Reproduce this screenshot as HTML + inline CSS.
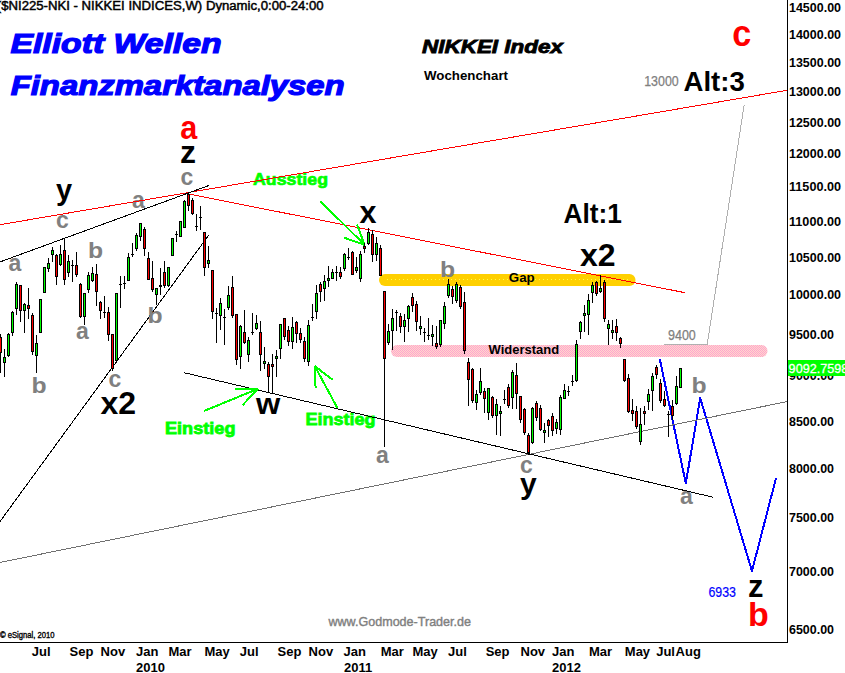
<!DOCTYPE html><html><head><meta charset="utf-8"><title>NIKKEI Index Wochenchart</title><style>html,body{margin:0;padding:0;background:#fff;overflow:hidden}svg{display:block}text{font-family:"Liberation Sans",Arial,sans-serif}</style></head><body>
<svg width="845" height="673" viewBox="0 0 845 673">
<rect width="845" height="673" fill="#fff"/>
<rect x="379" y="274" width="256.5" height="12" rx="6" fill="#FFD000"/>
<line x1="387" y1="279.5" x2="628" y2="279.5" stroke="#FFFF40" stroke-width="1" stroke-dasharray="1 3"/>
<defs><pattern id="pk" width="2" height="2" patternUnits="userSpaceOnUse"><rect width="2" height="2" fill="#FFDCC8"/><rect width="1" height="1" fill="#FFA0D2"/><rect x="1" y="1" width="1" height="1" fill="#FFA0D2"/></pattern></defs>
<rect x="391" y="345" width="376.5" height="12" rx="6" fill="url(#pk)"/>
<line x1="0" y1="521.5" x2="208.8" y2="235" stroke="#000" stroke-width="1" shape-rendering="crispEdges" />
<text x="-3.2" y="10.2" font-size="12.3" fill="#000" font-weight="normal" font-style="normal" stroke="#000" stroke-width="0.45" textLength="326.8" lengthAdjust="spacingAndGlyphs">($NI225-NKI - NIKKEI INDICES,W) Dynamic,0:00-24:00</text>
<text x="10.5" y="53" font-size="27" fill="#0000FF" font-weight="bold" font-style="italic" stroke="#0000FF" stroke-width="1.2" textLength="211" lengthAdjust="spacingAndGlyphs">Elliott Wellen</text>
<text x="10.7" y="94.5" font-size="27" fill="#0000FF" font-weight="bold" font-style="italic" stroke="#0000FF" stroke-width="1.2" textLength="334" lengthAdjust="spacingAndGlyphs">Finanzmarktanalysen</text>
<text x="422" y="53" font-size="17.5" fill="#000" font-weight="bold" font-style="italic" stroke="#000" stroke-width="0.8" textLength="141" lengthAdjust="spacingAndGlyphs">NIKKEI Index</text>
<text x="424" y="79.7" font-size="13.6" fill="#000" font-weight="bold" font-style="normal" textLength="84" lengthAdjust="spacingAndGlyphs">Wochenchart</text>
<text transform="translate(732.2,46) scale(0.95,1)" font-size="36" fill="#FF0000" font-weight="bold" font-style="normal" >c</text>
<text x="644.2" y="86" font-size="14" fill="#808080" font-weight="normal" font-style="normal" stroke="#808080" stroke-width="0.25" textLength="34.5" lengthAdjust="spacingAndGlyphs">13000</text>
<text transform="translate(683.5,90.7) scale(0.975,1)" font-size="28.3" fill="#000" font-weight="bold" font-style="normal" >Alt:3</text>
<text transform="translate(563.5,222.9) scale(0.93,1)" font-size="28.3" fill="#000" font-weight="bold" font-style="normal" >Alt:1</text>
<text x="580" y="266" font-size="32" fill="#000" font-weight="bold" font-style="normal" >x2</text>
<text x="668" y="340" font-size="14" fill="#808080" font-weight="normal" font-style="normal" stroke="#808080" stroke-width="0.25" textLength="27.8" lengthAdjust="spacingAndGlyphs">9400</text>
<text transform="translate(180.3,139.4) scale(0.9,1)" font-size="34" fill="#FF0000" font-weight="bold" font-style="normal" >a</text>
<text transform="translate(256,414.4) scale(1.06,1)" font-size="29.5" fill="#000" font-weight="bold" font-style="normal" >w</text>
<text x="180" y="163" font-size="32" fill="#000" font-weight="bold" font-style="normal" >z</text>
<text x="180.5" y="184.6" font-size="23" fill="#808080" font-weight="bold" font-style="normal" >c</text>
<text x="56" y="200" font-size="29" fill="#000" font-weight="bold" font-style="normal" >y</text>
<text x="56" y="228.3" font-size="23" fill="#808080" font-weight="bold" font-style="normal" >c</text>
<text x="132" y="207.5" font-size="23" fill="#808080" font-weight="bold" font-style="normal" >a</text>
<text transform="translate(88.0,257.6) scale(1.1,1)" font-size="22.5" fill="#808080" font-weight="bold">b</text>
<text x="8.5" y="270.8" font-size="23" fill="#808080" font-weight="bold" font-style="normal" >a</text>
<text x="76" y="338.7" font-size="23" fill="#808080" font-weight="bold" font-style="normal" >a</text>
<text transform="translate(31.5,392.9) scale(1.1,1)" font-size="22.5" fill="#808080" font-weight="bold">b</text>
<text x="108.5" y="387.3" font-size="23" fill="#808080" font-weight="bold" font-style="normal" >c</text>
<text x="100.5" y="414" font-size="32" fill="#000" font-weight="bold" font-style="normal" >x2</text>
<text transform="translate(147.5,322.5) scale(1.1,1)" font-size="22.5" fill="#808080" font-weight="bold">b</text>
<text x="376" y="462.7" font-size="23" fill="#808080" font-weight="bold" font-style="normal" >a</text>
<text x="359.5" y="222.9" font-size="30.5" fill="#000" font-weight="bold" font-style="normal" >x</text>
<text transform="translate(440.0,276.5) scale(1.1,1)" font-size="22.5" fill="#808080" font-weight="bold">b</text>
<text x="520" y="473.1" font-size="23" fill="#808080" font-weight="bold" font-style="normal" >c</text>
<text x="520" y="493.6" font-size="30" fill="#000" font-weight="bold" font-style="normal" >y</text>
<text transform="translate(691.5,392.9) scale(1.1,1)" font-size="22.5" fill="#808080" font-weight="bold">b</text>
<text x="680" y="503.8" font-size="23" fill="#808080" font-weight="bold" font-style="normal" >a</text>
<text x="748" y="596.5" font-size="31" fill="#000" font-weight="bold" font-style="normal" >z</text>
<text x="748" y="625.8" font-size="34" fill="#FF0000" font-weight="bold" font-style="normal" >b</text>
<text x="165" y="433.7" font-size="16.5" fill="#00FF00" font-weight="bold" font-style="normal" stroke="#00FF00" stroke-width="0.8" textLength="70.5" lengthAdjust="spacingAndGlyphs">Einstieg</text>
<text x="305.5" y="424.6" font-size="16.5" fill="#00FF00" font-weight="bold" font-style="normal" stroke="#00FF00" stroke-width="0.8" textLength="70" lengthAdjust="spacingAndGlyphs">Einstieg</text>
<text x="253" y="184.6" font-size="16.5" fill="#00FF00" font-weight="bold" font-style="normal" stroke="#00FF00" stroke-width="0.7" textLength="75" lengthAdjust="spacingAndGlyphs">Ausstieg</text>
<text x="508.8" y="281.7" font-size="13.3" fill="#000" font-weight="bold" font-style="normal" >Gap</text>
<text x="488.5" y="354" font-size="13" fill="#000" font-weight="bold" font-style="normal" >Widerstand</text>
<text x="708.5" y="596.5" font-size="14" fill="#0000FF" font-weight="normal" font-style="normal" stroke="#0000FF" stroke-width="0.2" textLength="27.5" lengthAdjust="spacingAndGlyphs">6933</text>
<text x="328.5" y="625.8" font-size="12.6" fill="#808080" font-weight="normal" font-style="normal" stroke="#808080" stroke-width="0.4" textLength="142.5" lengthAdjust="spacingAndGlyphs">www.Godmode-Trader.de</text>
<text x="0" y="638" font-size="8.3" fill="#000" font-weight="normal" font-style="normal" stroke="#000" stroke-width="0.35" textLength="54.5" lengthAdjust="spacingAndGlyphs">&#169; eSignal, 2010</text>
<polyline points="659.8,359 685.8,483.5 700.2,398.2 752,571 776,478.2" fill="none" stroke="#0000FF" stroke-width="2" stroke-linejoin="round" shape-rendering="crispEdges"/>
<line x1="0" y1="562.5" x2="787" y2="401.6" stroke="#707070" stroke-width="1" shape-rendering="crispEdges" />
<line x1="663.5" y1="344.6" x2="707.2" y2="344.6" stroke="#b0b0b0" stroke-width="1" shape-rendering="crispEdges" />
<line x1="707.2" y1="344.6" x2="744.2" y2="104.6" stroke="#b0b0b0" stroke-width="1" shape-rendering="crispEdges" />
<line x1="0" y1="224.7" x2="787" y2="90.3" stroke="#FF0000" stroke-width="1" shape-rendering="crispEdges" />
<line x1="187" y1="193.6" x2="685" y2="292.7" stroke="#FF0000" stroke-width="1" shape-rendering="crispEdges" />
<line x1="0" y1="261.9" x2="208.8" y2="185.5" stroke="#000" stroke-width="1" shape-rendering="crispEdges" />
<line x1="184.1" y1="372.7" x2="713" y2="497.2" stroke="#000" stroke-width="1" shape-rendering="crispEdges" />
<line x1="320.5" y1="201.3" x2="364.5" y2="244.8" stroke="#00FF00" stroke-width="2" shape-rendering="crispEdges" />
<line x1="344.3" y1="237.8" x2="364.5" y2="244.8" stroke="#00FF00" stroke-width="2" shape-rendering="crispEdges" />
<line x1="357" y1="224.4" x2="364.5" y2="244.8" stroke="#00FF00" stroke-width="2" shape-rendering="crispEdges" />
<line x1="204" y1="411" x2="258" y2="388.8" stroke="#00FF00" stroke-width="2" shape-rendering="crispEdges" />
<line x1="235.3" y1="388.8" x2="258" y2="388.8" stroke="#00FF00" stroke-width="2" shape-rendering="crispEdges" />
<line x1="242.4" y1="405.3" x2="258" y2="388.8" stroke="#00FF00" stroke-width="2" shape-rendering="crispEdges" />
<line x1="337.5" y1="408.2" x2="314.8" y2="366.1" stroke="#00FF00" stroke-width="2" shape-rendering="crispEdges" />
<line x1="315.6" y1="388.3" x2="314.8" y2="366.1" stroke="#00FF00" stroke-width="2" shape-rendering="crispEdges" />
<line x1="332.7" y1="379.8" x2="314.8" y2="366.1" stroke="#00FF00" stroke-width="2" shape-rendering="crispEdges" />
<g shape-rendering="crispEdges">
<rect x="0" y="334" width="1" height="39" fill="#000"/>
<rect x="-1" y="337" width="3" height="16" fill="#000"/>
<rect x="0" y="338" width="1" height="14" fill="#FF0000"/>
<rect x="4" y="349" width="1" height="28" fill="#000"/>
<rect x="3" y="357" width="3" height="6" fill="#000"/>
<rect x="4" y="358" width="1" height="4" fill="#00FF00"/>
<rect x="8" y="333" width="1" height="24" fill="#000"/>
<rect x="7" y="334" width="3" height="22" fill="#000"/>
<rect x="8" y="335" width="1" height="20" fill="#00FF00"/>
<rect x="12" y="311" width="1" height="25" fill="#000"/>
<rect x="11" y="312" width="3" height="21" fill="#000"/>
<rect x="12" y="313" width="1" height="19" fill="#00FF00"/>
<rect x="16" y="282" width="1" height="33" fill="#000"/>
<rect x="15" y="284" width="3" height="25" fill="#000"/>
<rect x="16" y="285" width="1" height="23" fill="#00FF00"/>
<rect x="20" y="285" width="1" height="37" fill="#000"/>
<rect x="19" y="285" width="3" height="26" fill="#000"/>
<rect x="20" y="286" width="1" height="24" fill="#FF0000"/>
<rect x="24" y="303" width="1" height="30" fill="#000"/>
<rect x="23" y="304" width="3" height="7" fill="#000"/>
<rect x="24" y="305" width="1" height="5" fill="#00FF00"/>
<rect x="28" y="288" width="1" height="31" fill="#000"/>
<rect x="27" y="305" width="3" height="4" fill="#000"/>
<rect x="28" y="306" width="1" height="2" fill="#FF0000"/>
<rect x="32" y="313" width="1" height="42" fill="#000"/>
<rect x="31" y="315" width="3" height="37" fill="#000"/>
<rect x="32" y="316" width="1" height="35" fill="#FF0000"/>
<rect x="36" y="335" width="1" height="38" fill="#000"/>
<rect x="35" y="343" width="3" height="13" fill="#000"/>
<rect x="36" y="344" width="1" height="11" fill="#00FF00"/>
<rect x="40" y="299" width="1" height="34" fill="#000"/>
<rect x="39" y="299" width="3" height="34" fill="#000"/>
<rect x="40" y="300" width="1" height="32" fill="#00FF00"/>
<rect x="44" y="267" width="1" height="26" fill="#000"/>
<rect x="43" y="267" width="3" height="26" fill="#000"/>
<rect x="44" y="268" width="1" height="24" fill="#00FF00"/>
<rect x="48" y="258" width="1" height="14" fill="#000"/>
<rect x="47" y="263" width="3" height="6" fill="#000"/>
<rect x="48" y="264" width="1" height="4" fill="#00FF00"/>
<rect x="52" y="247" width="1" height="15" fill="#000"/>
<rect x="51" y="250" width="3" height="5" fill="#000"/>
<rect x="52" y="251" width="1" height="3" fill="#00FF00"/>
<rect x="56" y="254" width="1" height="31" fill="#000"/>
<rect x="55" y="255" width="3" height="22" fill="#000"/>
<rect x="56" y="256" width="1" height="20" fill="#FF0000"/>
<rect x="60" y="245" width="1" height="21" fill="#000"/>
<rect x="59" y="254" width="3" height="11" fill="#000"/>
<rect x="60" y="255" width="1" height="9" fill="#00FF00"/>
<rect x="64" y="238" width="1" height="47" fill="#000"/>
<rect x="63" y="250" width="3" height="30" fill="#000"/>
<rect x="64" y="251" width="1" height="28" fill="#FF0000"/>
<rect x="68" y="255" width="1" height="22" fill="#000"/>
<rect x="67" y="261" width="3" height="12" fill="#000"/>
<rect x="68" y="262" width="1" height="10" fill="#00FF00"/>
<rect x="72" y="260" width="1" height="22" fill="#000"/>
<rect x="71" y="265" width="3" height="1" fill="#000"/>
<rect x="76" y="252" width="1" height="25" fill="#000"/>
<rect x="75" y="265" width="3" height="10" fill="#000"/>
<rect x="76" y="266" width="1" height="8" fill="#FF0000"/>
<rect x="80" y="283" width="1" height="35" fill="#000"/>
<rect x="79" y="284" width="3" height="33" fill="#000"/>
<rect x="80" y="285" width="1" height="31" fill="#FF0000"/>
<rect x="84" y="293" width="1" height="32" fill="#000"/>
<rect x="83" y="293" width="3" height="24" fill="#000"/>
<rect x="84" y="294" width="1" height="22" fill="#00FF00"/>
<rect x="88" y="272" width="1" height="21" fill="#000"/>
<rect x="87" y="275" width="3" height="15" fill="#000"/>
<rect x="88" y="276" width="1" height="13" fill="#00FF00"/>
<rect x="92" y="267" width="1" height="15" fill="#000"/>
<rect x="91" y="273" width="3" height="8" fill="#000"/>
<rect x="92" y="274" width="1" height="6" fill="#00FF00"/>
<rect x="96" y="264" width="1" height="42" fill="#000"/>
<rect x="95" y="274" width="3" height="18" fill="#000"/>
<rect x="96" y="275" width="1" height="16" fill="#FF0000"/>
<rect x="100" y="301" width="1" height="18" fill="#000"/>
<rect x="99" y="302" width="3" height="9" fill="#000"/>
<rect x="100" y="303" width="1" height="7" fill="#FF0000"/>
<rect x="104" y="296" width="1" height="22" fill="#000"/>
<rect x="103" y="312" width="3" height="1" fill="#000"/>
<rect x="108" y="307" width="1" height="34" fill="#000"/>
<rect x="107" y="312" width="3" height="23" fill="#000"/>
<rect x="108" y="313" width="1" height="21" fill="#FF0000"/>
<rect x="112" y="334" width="1" height="37" fill="#000"/>
<rect x="111" y="334" width="3" height="35" fill="#000"/>
<rect x="112" y="335" width="1" height="33" fill="#FF0000"/>
<rect x="116" y="293" width="1" height="70" fill="#000"/>
<rect x="115" y="293" width="3" height="68" fill="#000"/>
<rect x="116" y="294" width="1" height="66" fill="#00FF00"/>
<rect x="120" y="276" width="1" height="32" fill="#000"/>
<rect x="119" y="284" width="3" height="1" fill="#000"/>
<rect x="124" y="276" width="1" height="13" fill="#000"/>
<rect x="123" y="283" width="3" height="1" fill="#000"/>
<rect x="128" y="253" width="1" height="28" fill="#000"/>
<rect x="127" y="257" width="3" height="24" fill="#000"/>
<rect x="128" y="258" width="1" height="22" fill="#00FF00"/>
<rect x="132" y="243" width="1" height="14" fill="#000"/>
<rect x="131" y="254" width="3" height="1" fill="#000"/>
<rect x="136" y="233" width="1" height="18" fill="#000"/>
<rect x="135" y="235" width="3" height="14" fill="#000"/>
<rect x="136" y="236" width="1" height="12" fill="#00FF00"/>
<rect x="140" y="223" width="1" height="18" fill="#000"/>
<rect x="139" y="223" width="3" height="14" fill="#000"/>
<rect x="140" y="224" width="1" height="12" fill="#00FF00"/>
<rect x="144" y="227" width="1" height="29" fill="#000"/>
<rect x="143" y="229" width="3" height="20" fill="#000"/>
<rect x="144" y="230" width="1" height="18" fill="#FF0000"/>
<rect x="148" y="252" width="1" height="28" fill="#000"/>
<rect x="147" y="258" width="3" height="22" fill="#000"/>
<rect x="148" y="259" width="1" height="20" fill="#FF0000"/>
<rect x="152" y="261" width="1" height="31" fill="#000"/>
<rect x="151" y="278" width="3" height="12" fill="#000"/>
<rect x="152" y="279" width="1" height="10" fill="#FF0000"/>
<rect x="156" y="288" width="1" height="17" fill="#000"/>
<rect x="155" y="288" width="3" height="7" fill="#000"/>
<rect x="156" y="289" width="1" height="5" fill="#00FF00"/>
<rect x="160" y="268" width="1" height="27" fill="#000"/>
<rect x="159" y="285" width="3" height="2" fill="#000"/>
<rect x="164" y="261" width="1" height="27" fill="#000"/>
<rect x="163" y="272" width="3" height="14" fill="#000"/>
<rect x="164" y="273" width="1" height="12" fill="#FF0000"/>
<rect x="168" y="267" width="1" height="20" fill="#000"/>
<rect x="167" y="267" width="3" height="19" fill="#000"/>
<rect x="168" y="268" width="1" height="17" fill="#00FF00"/>
<rect x="172" y="238" width="1" height="18" fill="#000"/>
<rect x="171" y="238" width="3" height="18" fill="#000"/>
<rect x="172" y="239" width="1" height="16" fill="#00FF00"/>
<rect x="176" y="231" width="1" height="11" fill="#000"/>
<rect x="175" y="234" width="3" height="1" fill="#000"/>
<rect x="180" y="221" width="1" height="16" fill="#000"/>
<rect x="179" y="221" width="3" height="16" fill="#000"/>
<rect x="180" y="222" width="1" height="14" fill="#00FF00"/>
<rect x="184" y="200" width="1" height="28" fill="#000"/>
<rect x="183" y="201" width="3" height="27" fill="#000"/>
<rect x="184" y="202" width="1" height="25" fill="#00FF00"/>
<rect x="188" y="192" width="1" height="19" fill="#000"/>
<rect x="187" y="194" width="3" height="12" fill="#000"/>
<rect x="188" y="195" width="1" height="10" fill="#FF0000"/>
<rect x="192" y="198" width="1" height="17" fill="#000"/>
<rect x="191" y="200" width="3" height="14" fill="#000"/>
<rect x="192" y="201" width="1" height="12" fill="#FF0000"/>
<rect x="196" y="214" width="1" height="17" fill="#000"/>
<rect x="195" y="226" width="3" height="1" fill="#000"/>
<rect x="200" y="206" width="1" height="24" fill="#000"/>
<rect x="199" y="217" width="3" height="1" fill="#000"/>
<rect x="204" y="232" width="1" height="44" fill="#000"/>
<rect x="203" y="232" width="3" height="36" fill="#000"/>
<rect x="204" y="233" width="1" height="34" fill="#FF0000"/>
<rect x="208" y="246" width="1" height="22" fill="#000"/>
<rect x="207" y="260" width="3" height="4" fill="#000"/>
<rect x="208" y="261" width="1" height="2" fill="#00FF00"/>
<rect x="212" y="270" width="1" height="49" fill="#000"/>
<rect x="211" y="270" width="3" height="42" fill="#000"/>
<rect x="212" y="271" width="1" height="40" fill="#FF0000"/>
<rect x="216" y="308" width="1" height="35" fill="#000"/>
<rect x="215" y="313" width="3" height="1" fill="#000"/>
<rect x="220" y="298" width="1" height="32" fill="#000"/>
<rect x="219" y="303" width="3" height="13" fill="#000"/>
<rect x="220" y="304" width="1" height="11" fill="#00FF00"/>
<rect x="224" y="309" width="1" height="36" fill="#000"/>
<rect x="223" y="317" width="3" height="1" fill="#000"/>
<rect x="228" y="286" width="1" height="24" fill="#000"/>
<rect x="227" y="295" width="3" height="13" fill="#000"/>
<rect x="228" y="296" width="1" height="11" fill="#00FF00"/>
<rect x="232" y="276" width="1" height="42" fill="#000"/>
<rect x="231" y="287" width="3" height="29" fill="#000"/>
<rect x="232" y="288" width="1" height="27" fill="#FF0000"/>
<rect x="236" y="314" width="1" height="51" fill="#000"/>
<rect x="235" y="314" width="3" height="46" fill="#000"/>
<rect x="236" y="315" width="1" height="44" fill="#FF0000"/>
<rect x="240" y="325" width="1" height="44" fill="#000"/>
<rect x="239" y="326" width="3" height="31" fill="#000"/>
<rect x="240" y="327" width="1" height="29" fill="#00FF00"/>
<rect x="244" y="310" width="1" height="34" fill="#000"/>
<rect x="243" y="332" width="3" height="11" fill="#000"/>
<rect x="244" y="333" width="1" height="9" fill="#FF0000"/>
<rect x="248" y="337" width="1" height="25" fill="#000"/>
<rect x="247" y="340" width="3" height="15" fill="#000"/>
<rect x="248" y="341" width="1" height="13" fill="#00FF00"/>
<rect x="252" y="313" width="1" height="22" fill="#000"/>
<rect x="251" y="332" width="3" height="1" fill="#000"/>
<rect x="256" y="315" width="1" height="15" fill="#000"/>
<rect x="255" y="323" width="3" height="6" fill="#000"/>
<rect x="256" y="324" width="1" height="4" fill="#00FF00"/>
<rect x="260" y="321" width="1" height="50" fill="#000"/>
<rect x="259" y="332" width="3" height="23" fill="#000"/>
<rect x="260" y="333" width="1" height="21" fill="#FF0000"/>
<rect x="264" y="347" width="1" height="22" fill="#000"/>
<rect x="263" y="361" width="3" height="3" fill="#000"/>
<rect x="264" y="362" width="1" height="1" fill="#00FF00"/>
<rect x="268" y="362" width="1" height="31" fill="#000"/>
<rect x="267" y="364" width="3" height="13" fill="#000"/>
<rect x="268" y="365" width="1" height="11" fill="#FF0000"/>
<rect x="272" y="354" width="1" height="39" fill="#000"/>
<rect x="271" y="364" width="3" height="3" fill="#000"/>
<rect x="272" y="365" width="1" height="1" fill="#FF0000"/>
<rect x="276" y="350" width="1" height="27" fill="#000"/>
<rect x="275" y="356" width="3" height="3" fill="#000"/>
<rect x="276" y="357" width="1" height="1" fill="#00FF00"/>
<rect x="280" y="324" width="1" height="35" fill="#000"/>
<rect x="279" y="324" width="3" height="25" fill="#000"/>
<rect x="280" y="325" width="1" height="23" fill="#00FF00"/>
<rect x="284" y="318" width="1" height="22" fill="#000"/>
<rect x="283" y="318" width="3" height="19" fill="#000"/>
<rect x="284" y="319" width="1" height="17" fill="#FF0000"/>
<rect x="288" y="326" width="1" height="20" fill="#000"/>
<rect x="287" y="330" width="3" height="12" fill="#000"/>
<rect x="288" y="331" width="1" height="10" fill="#FF0000"/>
<rect x="292" y="317" width="1" height="32" fill="#000"/>
<rect x="291" y="327" width="3" height="15" fill="#000"/>
<rect x="292" y="328" width="1" height="13" fill="#00FF00"/>
<rect x="296" y="321" width="1" height="22" fill="#000"/>
<rect x="295" y="322" width="3" height="12" fill="#000"/>
<rect x="296" y="323" width="1" height="10" fill="#FF0000"/>
<rect x="300" y="328" width="1" height="15" fill="#000"/>
<rect x="299" y="333" width="3" height="7" fill="#000"/>
<rect x="300" y="334" width="1" height="5" fill="#FF0000"/>
<rect x="304" y="337" width="1" height="25" fill="#000"/>
<rect x="303" y="341" width="3" height="18" fill="#000"/>
<rect x="304" y="342" width="1" height="16" fill="#FF0000"/>
<rect x="308" y="320" width="1" height="46" fill="#000"/>
<rect x="307" y="325" width="3" height="37" fill="#000"/>
<rect x="308" y="326" width="1" height="35" fill="#00FF00"/>
<rect x="312" y="304" width="1" height="17" fill="#000"/>
<rect x="311" y="317" width="3" height="1" fill="#000"/>
<rect x="316" y="285" width="1" height="34" fill="#000"/>
<rect x="315" y="293" width="3" height="19" fill="#000"/>
<rect x="316" y="294" width="1" height="17" fill="#00FF00"/>
<rect x="320" y="282" width="1" height="20" fill="#000"/>
<rect x="319" y="284" width="3" height="8" fill="#000"/>
<rect x="320" y="285" width="1" height="6" fill="#FF0000"/>
<rect x="324" y="275" width="1" height="26" fill="#000"/>
<rect x="323" y="281" width="3" height="8" fill="#000"/>
<rect x="324" y="282" width="1" height="6" fill="#00FF00"/>
<rect x="328" y="266" width="1" height="21" fill="#000"/>
<rect x="327" y="278" width="3" height="3" fill="#000"/>
<rect x="328" y="279" width="1" height="1" fill="#00FF00"/>
<rect x="332" y="269" width="1" height="10" fill="#000"/>
<rect x="331" y="272" width="3" height="7" fill="#000"/>
<rect x="332" y="273" width="1" height="5" fill="#00FF00"/>
<rect x="336" y="266" width="1" height="15" fill="#000"/>
<rect x="335" y="272" width="3" height="1" fill="#000"/>
<rect x="340" y="267" width="1" height="12" fill="#000"/>
<rect x="339" y="272" width="3" height="5" fill="#000"/>
<rect x="340" y="273" width="1" height="3" fill="#FF0000"/>
<rect x="344" y="253" width="1" height="18" fill="#000"/>
<rect x="343" y="254" width="3" height="15" fill="#000"/>
<rect x="344" y="255" width="1" height="13" fill="#00FF00"/>
<rect x="348" y="248" width="1" height="12" fill="#000"/>
<rect x="347" y="257" width="3" height="1" fill="#000"/>
<rect x="352" y="251" width="1" height="24" fill="#000"/>
<rect x="351" y="252" width="3" height="23" fill="#000"/>
<rect x="352" y="253" width="1" height="21" fill="#FF0000"/>
<rect x="356" y="257" width="1" height="16" fill="#000"/>
<rect x="355" y="267" width="3" height="4" fill="#000"/>
<rect x="356" y="268" width="1" height="2" fill="#00FF00"/>
<rect x="360" y="251" width="1" height="31" fill="#000"/>
<rect x="359" y="254" width="3" height="25" fill="#000"/>
<rect x="360" y="255" width="1" height="23" fill="#00FF00"/>
<rect x="364" y="243" width="1" height="10" fill="#000"/>
<rect x="363" y="246" width="3" height="3" fill="#000"/>
<rect x="364" y="247" width="1" height="1" fill="#FF0000"/>
<rect x="368" y="228" width="1" height="17" fill="#000"/>
<rect x="367" y="232" width="3" height="12" fill="#000"/>
<rect x="368" y="233" width="1" height="10" fill="#00FF00"/>
<rect x="372" y="230" width="1" height="32" fill="#000"/>
<rect x="371" y="234" width="3" height="21" fill="#000"/>
<rect x="372" y="235" width="1" height="19" fill="#FF0000"/>
<rect x="376" y="237" width="1" height="24" fill="#000"/>
<rect x="375" y="243" width="3" height="12" fill="#000"/>
<rect x="376" y="244" width="1" height="10" fill="#00FF00"/>
<rect x="380" y="245" width="1" height="31" fill="#000"/>
<rect x="379" y="248" width="3" height="28" fill="#000"/>
<rect x="380" y="249" width="1" height="26" fill="#FF0000"/>
<rect x="384" y="291" width="1" height="156" fill="#000"/>
<rect x="383" y="291" width="3" height="68" fill="#000"/>
<rect x="384" y="292" width="1" height="66" fill="#FF0000"/>
<rect x="388" y="324" width="1" height="21" fill="#000"/>
<rect x="387" y="331" width="3" height="12" fill="#000"/>
<rect x="388" y="332" width="1" height="10" fill="#00FF00"/>
<rect x="392" y="309" width="1" height="41" fill="#000"/>
<rect x="391" y="318" width="3" height="13" fill="#000"/>
<rect x="392" y="319" width="1" height="11" fill="#00FF00"/>
<rect x="396" y="310" width="1" height="21" fill="#000"/>
<rect x="395" y="312" width="3" height="1" fill="#000"/>
<rect x="400" y="313" width="1" height="20" fill="#000"/>
<rect x="399" y="316" width="3" height="11" fill="#000"/>
<rect x="400" y="317" width="1" height="9" fill="#FF0000"/>
<rect x="404" y="314" width="1" height="28" fill="#000"/>
<rect x="403" y="320" width="3" height="7" fill="#000"/>
<rect x="404" y="321" width="1" height="5" fill="#00FF00"/>
<rect x="408" y="305" width="1" height="27" fill="#000"/>
<rect x="407" y="306" width="3" height="13" fill="#000"/>
<rect x="408" y="307" width="1" height="11" fill="#00FF00"/>
<rect x="412" y="293" width="1" height="19" fill="#000"/>
<rect x="411" y="297" width="3" height="9" fill="#000"/>
<rect x="412" y="298" width="1" height="7" fill="#FF0000"/>
<rect x="416" y="301" width="1" height="30" fill="#000"/>
<rect x="415" y="304" width="3" height="18" fill="#000"/>
<rect x="416" y="305" width="1" height="16" fill="#FF0000"/>
<rect x="420" y="316" width="1" height="19" fill="#000"/>
<rect x="419" y="326" width="3" height="3" fill="#000"/>
<rect x="420" y="327" width="1" height="1" fill="#00FF00"/>
<rect x="424" y="328" width="1" height="14" fill="#000"/>
<rect x="423" y="332" width="3" height="1" fill="#000"/>
<rect x="428" y="318" width="1" height="22" fill="#000"/>
<rect x="427" y="335" width="3" height="1" fill="#000"/>
<rect x="432" y="325" width="1" height="21" fill="#000"/>
<rect x="431" y="334" width="3" height="3" fill="#000"/>
<rect x="432" y="335" width="1" height="1" fill="#00FF00"/>
<rect x="436" y="326" width="1" height="23" fill="#000"/>
<rect x="435" y="343" width="3" height="4" fill="#000"/>
<rect x="436" y="344" width="1" height="2" fill="#FF0000"/>
<rect x="440" y="320" width="1" height="27" fill="#000"/>
<rect x="439" y="320" width="3" height="25" fill="#000"/>
<rect x="440" y="321" width="1" height="23" fill="#00FF00"/>
<rect x="444" y="302" width="1" height="27" fill="#000"/>
<rect x="443" y="306" width="3" height="18" fill="#000"/>
<rect x="444" y="307" width="1" height="16" fill="#00FF00"/>
<rect x="448" y="279" width="1" height="19" fill="#000"/>
<rect x="447" y="284" width="3" height="12" fill="#000"/>
<rect x="448" y="285" width="1" height="10" fill="#00FF00"/>
<rect x="452" y="286" width="1" height="18" fill="#000"/>
<rect x="451" y="289" width="3" height="8" fill="#000"/>
<rect x="452" y="290" width="1" height="6" fill="#FF0000"/>
<rect x="456" y="282" width="1" height="21" fill="#000"/>
<rect x="455" y="284" width="3" height="17" fill="#000"/>
<rect x="456" y="285" width="1" height="15" fill="#00FF00"/>
<rect x="460" y="285" width="1" height="24" fill="#000"/>
<rect x="459" y="287" width="3" height="20" fill="#000"/>
<rect x="460" y="288" width="1" height="18" fill="#FF0000"/>
<rect x="464" y="292" width="1" height="62" fill="#000"/>
<rect x="463" y="302" width="3" height="49" fill="#000"/>
<rect x="464" y="303" width="1" height="47" fill="#FF0000"/>
<rect x="468" y="358" width="1" height="48" fill="#000"/>
<rect x="467" y="362" width="3" height="18" fill="#000"/>
<rect x="468" y="363" width="1" height="16" fill="#FF0000"/>
<rect x="472" y="368" width="1" height="35" fill="#000"/>
<rect x="471" y="369" width="3" height="32" fill="#000"/>
<rect x="472" y="370" width="1" height="30" fill="#FF0000"/>
<rect x="476" y="390" width="1" height="20" fill="#000"/>
<rect x="475" y="394" width="3" height="9" fill="#000"/>
<rect x="476" y="395" width="1" height="7" fill="#00FF00"/>
<rect x="480" y="368" width="1" height="27" fill="#000"/>
<rect x="479" y="381" width="3" height="12" fill="#000"/>
<rect x="480" y="382" width="1" height="10" fill="#00FF00"/>
<rect x="484" y="388" width="1" height="25" fill="#000"/>
<rect x="483" y="391" width="3" height="8" fill="#000"/>
<rect x="484" y="392" width="1" height="6" fill="#FF0000"/>
<rect x="488" y="388" width="1" height="32" fill="#000"/>
<rect x="487" y="388" width="3" height="25" fill="#000"/>
<rect x="488" y="389" width="1" height="23" fill="#00FF00"/>
<rect x="492" y="396" width="1" height="22" fill="#000"/>
<rect x="491" y="397" width="3" height="19" fill="#000"/>
<rect x="492" y="398" width="1" height="17" fill="#FF0000"/>
<rect x="496" y="399" width="1" height="36" fill="#000"/>
<rect x="495" y="404" width="3" height="12" fill="#000"/>
<rect x="496" y="405" width="1" height="10" fill="#00FF00"/>
<rect x="500" y="406" width="1" height="30" fill="#000"/>
<rect x="499" y="411" width="3" height="3" fill="#000"/>
<rect x="500" y="412" width="1" height="1" fill="#00FF00"/>
<rect x="504" y="390" width="1" height="14" fill="#000"/>
<rect x="503" y="399" width="3" height="1" fill="#000"/>
<rect x="508" y="384" width="1" height="24" fill="#000"/>
<rect x="507" y="387" width="3" height="19" fill="#000"/>
<rect x="508" y="388" width="1" height="17" fill="#FF0000"/>
<rect x="512" y="370" width="1" height="39" fill="#000"/>
<rect x="511" y="372" width="3" height="26" fill="#000"/>
<rect x="512" y="373" width="1" height="24" fill="#00FF00"/>
<rect x="516" y="363" width="1" height="46" fill="#000"/>
<rect x="515" y="375" width="3" height="19" fill="#000"/>
<rect x="516" y="376" width="1" height="17" fill="#FF0000"/>
<rect x="520" y="396" width="1" height="27" fill="#000"/>
<rect x="519" y="396" width="3" height="24" fill="#000"/>
<rect x="520" y="397" width="1" height="22" fill="#FF0000"/>
<rect x="524" y="408" width="1" height="27" fill="#000"/>
<rect x="523" y="409" width="3" height="24" fill="#000"/>
<rect x="524" y="410" width="1" height="22" fill="#FF0000"/>
<rect x="528" y="433" width="1" height="22" fill="#000"/>
<rect x="527" y="435" width="3" height="18" fill="#000"/>
<rect x="528" y="436" width="1" height="16" fill="#FF0000"/>
<rect x="532" y="407" width="1" height="37" fill="#000"/>
<rect x="531" y="408" width="3" height="35" fill="#000"/>
<rect x="532" y="409" width="1" height="33" fill="#00FF00"/>
<rect x="536" y="401" width="1" height="20" fill="#000"/>
<rect x="535" y="403" width="3" height="15" fill="#000"/>
<rect x="536" y="404" width="1" height="13" fill="#FF0000"/>
<rect x="540" y="405" width="1" height="26" fill="#000"/>
<rect x="539" y="408" width="3" height="22" fill="#000"/>
<rect x="540" y="409" width="1" height="20" fill="#FF0000"/>
<rect x="544" y="423" width="1" height="20" fill="#000"/>
<rect x="543" y="430" width="3" height="3" fill="#000"/>
<rect x="544" y="431" width="1" height="1" fill="#00FF00"/>
<rect x="548" y="419" width="1" height="18" fill="#000"/>
<rect x="547" y="420" width="3" height="6" fill="#000"/>
<rect x="548" y="421" width="1" height="4" fill="#FF0000"/>
<rect x="552" y="413" width="1" height="23" fill="#000"/>
<rect x="551" y="416" width="3" height="15" fill="#000"/>
<rect x="552" y="417" width="1" height="13" fill="#FF0000"/>
<rect x="556" y="419" width="1" height="15" fill="#000"/>
<rect x="555" y="422" width="3" height="7" fill="#000"/>
<rect x="556" y="423" width="1" height="5" fill="#00FF00"/>
<rect x="560" y="395" width="1" height="40" fill="#000"/>
<rect x="559" y="397" width="3" height="33" fill="#000"/>
<rect x="560" y="398" width="1" height="31" fill="#00FF00"/>
<rect x="564" y="384" width="1" height="15" fill="#000"/>
<rect x="563" y="390" width="3" height="9" fill="#000"/>
<rect x="564" y="391" width="1" height="7" fill="#00FF00"/>
<rect x="568" y="386" width="1" height="10" fill="#000"/>
<rect x="567" y="391" width="3" height="1" fill="#000"/>
<rect x="572" y="375" width="1" height="11" fill="#000"/>
<rect x="571" y="381" width="3" height="1" fill="#000"/>
<rect x="576" y="340" width="1" height="42" fill="#000"/>
<rect x="575" y="344" width="3" height="37" fill="#000"/>
<rect x="576" y="345" width="1" height="35" fill="#00FF00"/>
<rect x="580" y="321" width="1" height="18" fill="#000"/>
<rect x="579" y="322" width="3" height="10" fill="#000"/>
<rect x="580" y="323" width="1" height="8" fill="#00FF00"/>
<rect x="584" y="305" width="1" height="27" fill="#000"/>
<rect x="583" y="313" width="3" height="3" fill="#000"/>
<rect x="584" y="314" width="1" height="1" fill="#00FF00"/>
<rect x="588" y="294" width="1" height="41" fill="#000"/>
<rect x="587" y="300" width="3" height="15" fill="#000"/>
<rect x="588" y="301" width="1" height="13" fill="#00FF00"/>
<rect x="592" y="282" width="1" height="21" fill="#000"/>
<rect x="591" y="285" width="3" height="8" fill="#000"/>
<rect x="592" y="286" width="1" height="6" fill="#00FF00"/>
<rect x="596" y="281" width="1" height="15" fill="#000"/>
<rect x="595" y="282" width="3" height="12" fill="#000"/>
<rect x="596" y="283" width="1" height="10" fill="#FF0000"/>
<rect x="600" y="275" width="1" height="18" fill="#000"/>
<rect x="599" y="288" width="3" height="4" fill="#000"/>
<rect x="600" y="289" width="1" height="2" fill="#00FF00"/>
<rect x="604" y="280" width="1" height="42" fill="#000"/>
<rect x="603" y="282" width="3" height="37" fill="#000"/>
<rect x="604" y="283" width="1" height="35" fill="#FF0000"/>
<rect x="608" y="320" width="1" height="25" fill="#000"/>
<rect x="607" y="324" width="3" height="5" fill="#000"/>
<rect x="608" y="325" width="1" height="3" fill="#00FF00"/>
<rect x="612" y="320" width="1" height="19" fill="#000"/>
<rect x="611" y="330" width="3" height="3" fill="#000"/>
<rect x="612" y="331" width="1" height="1" fill="#00FF00"/>
<rect x="616" y="319" width="1" height="22" fill="#000"/>
<rect x="615" y="326" width="3" height="7" fill="#000"/>
<rect x="616" y="327" width="1" height="5" fill="#FF0000"/>
<rect x="620" y="337" width="1" height="11" fill="#000"/>
<rect x="619" y="338" width="3" height="6" fill="#000"/>
<rect x="620" y="339" width="1" height="4" fill="#FF0000"/>
<rect x="624" y="359" width="1" height="23" fill="#000"/>
<rect x="623" y="359" width="3" height="22" fill="#000"/>
<rect x="624" y="360" width="1" height="20" fill="#FF0000"/>
<rect x="628" y="374" width="1" height="39" fill="#000"/>
<rect x="627" y="378" width="3" height="34" fill="#000"/>
<rect x="628" y="379" width="1" height="32" fill="#FF0000"/>
<rect x="632" y="399" width="1" height="22" fill="#000"/>
<rect x="631" y="410" width="3" height="4" fill="#000"/>
<rect x="632" y="411" width="1" height="2" fill="#FF0000"/>
<rect x="636" y="406" width="1" height="23" fill="#000"/>
<rect x="635" y="411" width="3" height="16" fill="#000"/>
<rect x="636" y="412" width="1" height="14" fill="#FF0000"/>
<rect x="640" y="408" width="1" height="37" fill="#000"/>
<rect x="639" y="424" width="3" height="18" fill="#000"/>
<rect x="640" y="425" width="1" height="16" fill="#00FF00"/>
<rect x="644" y="406" width="1" height="19" fill="#000"/>
<rect x="643" y="411" width="3" height="3" fill="#000"/>
<rect x="644" y="412" width="1" height="1" fill="#FF0000"/>
<rect x="648" y="389" width="1" height="21" fill="#000"/>
<rect x="647" y="394" width="3" height="8" fill="#000"/>
<rect x="648" y="395" width="1" height="6" fill="#00FF00"/>
<rect x="652" y="373" width="1" height="38" fill="#000"/>
<rect x="651" y="376" width="3" height="15" fill="#000"/>
<rect x="652" y="377" width="1" height="13" fill="#00FF00"/>
<rect x="656" y="365" width="1" height="14" fill="#000"/>
<rect x="655" y="367" width="3" height="8" fill="#000"/>
<rect x="656" y="368" width="1" height="6" fill="#FF0000"/>
<rect x="660" y="379" width="1" height="24" fill="#000"/>
<rect x="659" y="383" width="3" height="18" fill="#000"/>
<rect x="660" y="384" width="1" height="16" fill="#FF0000"/>
<rect x="664" y="391" width="1" height="16" fill="#000"/>
<rect x="663" y="399" width="3" height="7" fill="#000"/>
<rect x="664" y="400" width="1" height="5" fill="#FF0000"/>
<rect x="668" y="411" width="1" height="26" fill="#000"/>
<rect x="667" y="414" width="3" height="1" fill="#000"/>
<rect x="672" y="400" width="1" height="20" fill="#000"/>
<rect x="671" y="406" width="3" height="10" fill="#000"/>
<rect x="672" y="407" width="1" height="8" fill="#FF0000"/>
<rect x="676" y="376" width="1" height="29" fill="#000"/>
<rect x="675" y="386" width="3" height="18" fill="#000"/>
<rect x="676" y="387" width="1" height="16" fill="#00FF00"/>
<rect x="680" y="368" width="1" height="20" fill="#000"/>
<rect x="679" y="368" width="3" height="20" fill="#000"/>
<rect x="680" y="369" width="1" height="18" fill="#00FF00"/>
</g>
<g shape-rendering="crispEdges">
<rect x="787" y="0" width="1" height="643" fill="#000"/>
<rect x="0" y="642" width="788" height="1" fill="#000"/>
</g>
<text x="789" y="11.9" font-size="13.5" fill="#000" font-weight="bold" font-style="normal" textLength="52" lengthAdjust="spacingAndGlyphs">14500.00</text>
<text x="789" y="38.8" font-size="13.5" fill="#000" font-weight="bold" font-style="normal" textLength="52" lengthAdjust="spacingAndGlyphs">14000.00</text>
<text x="789" y="67.0" font-size="13.5" fill="#000" font-weight="bold" font-style="normal" textLength="52" lengthAdjust="spacingAndGlyphs">13500.00</text>
<text x="789" y="95.7" font-size="13.5" fill="#000" font-weight="bold" font-style="normal" textLength="52" lengthAdjust="spacingAndGlyphs">13000.00</text>
<text x="789" y="127" font-size="13.5" fill="#000" font-weight="bold" font-style="normal" textLength="52" lengthAdjust="spacingAndGlyphs">12500.00</text>
<text x="789" y="157.7" font-size="13.5" fill="#000" font-weight="bold" font-style="normal" textLength="52" lengthAdjust="spacingAndGlyphs">12000.00</text>
<text x="789" y="190.7" font-size="13.5" fill="#000" font-weight="bold" font-style="normal" textLength="52" lengthAdjust="spacingAndGlyphs">11500.00</text>
<text x="789" y="225.6" font-size="13.5" fill="#000" font-weight="bold" font-style="normal" textLength="52" lengthAdjust="spacingAndGlyphs">11000.00</text>
<text x="789" y="261.6" font-size="13.5" fill="#000" font-weight="bold" font-style="normal" textLength="52" lengthAdjust="spacingAndGlyphs">10500.00</text>
<text x="789" y="299.4" font-size="13.5" fill="#000" font-weight="bold" font-style="normal" textLength="52" lengthAdjust="spacingAndGlyphs">10000.00</text>
<text x="789" y="339.1" font-size="13.5" fill="#000" font-weight="bold" font-style="normal" textLength="45" lengthAdjust="spacingAndGlyphs">9500.00</text>
<text x="789" y="380.3" font-size="13.5" fill="#000" font-weight="bold" font-style="normal" textLength="45" lengthAdjust="spacingAndGlyphs">9000.00</text>
<text x="789" y="425.8" font-size="13.5" fill="#000" font-weight="bold" font-style="normal" textLength="45" lengthAdjust="spacingAndGlyphs">8500.00</text>
<text x="789" y="472.6" font-size="13.5" fill="#000" font-weight="bold" font-style="normal" textLength="45" lengthAdjust="spacingAndGlyphs">8000.00</text>
<text x="789" y="522.3" font-size="13.5" fill="#000" font-weight="bold" font-style="normal" textLength="45" lengthAdjust="spacingAndGlyphs">7500.00</text>
<text x="789" y="575.6" font-size="13.5" fill="#000" font-weight="bold" font-style="normal" textLength="45" lengthAdjust="spacingAndGlyphs">7000.00</text>
<text x="789" y="633.8" font-size="13.5" fill="#000" font-weight="bold" font-style="normal" textLength="45" lengthAdjust="spacingAndGlyphs">6500.00</text>
<rect x="788" y="360" width="57" height="16" fill="#00FF00"/>
<text transform="translate(788.6,372.7) scale(0.93,1)" font-size="13.6" fill="#fff" font-weight="normal" font-style="normal" stroke="#fff" stroke-width="0.3">9092.7598</text>
<text x="31.8" y="656" font-size="13" fill="#000" font-weight="bold" font-style="normal" >Jul</text>
<text x="69.6" y="656" font-size="13" fill="#000" font-weight="bold" font-style="normal" >Sep</text>
<text x="100.6" y="656" font-size="13" fill="#000" font-weight="bold" font-style="normal" >Nov</text>
<text x="136" y="656" font-size="13" fill="#000" font-weight="bold" font-style="normal" >Jan</text>
<text x="168.5" y="656" font-size="13" fill="#000" font-weight="bold" font-style="normal" >Mar</text>
<text x="204.5" y="656" font-size="13" fill="#000" font-weight="bold" font-style="normal" >May</text>
<text x="239.8" y="656" font-size="13" fill="#000" font-weight="bold" font-style="normal" >Jul</text>
<text x="277.5" y="656" font-size="13" fill="#000" font-weight="bold" font-style="normal" >Sep</text>
<text x="308.6" y="656" font-size="13" fill="#000" font-weight="bold" font-style="normal" >Nov</text>
<text x="343.6" y="656" font-size="13" fill="#000" font-weight="bold" font-style="normal" >Jan</text>
<text x="380.7" y="656" font-size="13" fill="#000" font-weight="bold" font-style="normal" >Mar</text>
<text x="412.4" y="656" font-size="13" fill="#000" font-weight="bold" font-style="normal" >May</text>
<text x="448" y="656" font-size="13" fill="#000" font-weight="bold" font-style="normal" >Jul</text>
<text x="485.7" y="656" font-size="13" fill="#000" font-weight="bold" font-style="normal" >Sep</text>
<text x="520.5" y="656" font-size="13" fill="#000" font-weight="bold" font-style="normal" >Nov</text>
<text x="552" y="656" font-size="13" fill="#000" font-weight="bold" font-style="normal" >Jan</text>
<text x="588.9" y="656" font-size="13" fill="#000" font-weight="bold" font-style="normal" >Mar</text>
<text x="624.8" y="656" font-size="13" fill="#000" font-weight="bold" font-style="normal" >May</text>
<text x="656.2" y="656" font-size="13" fill="#000" font-weight="bold" font-style="normal" >Jul</text>
<text x="675.6" y="656" font-size="13" fill="#000" font-weight="bold" font-style="normal" >Aug</text>
<text x="136" y="672" font-size="13" fill="#000" font-weight="bold" font-style="normal" >2010</text>
<text x="344" y="672" font-size="13" fill="#000" font-weight="bold" font-style="normal" >2011</text>
<text x="552" y="672" font-size="13" fill="#000" font-weight="bold" font-style="normal" >2012</text>
</svg></body></html>
